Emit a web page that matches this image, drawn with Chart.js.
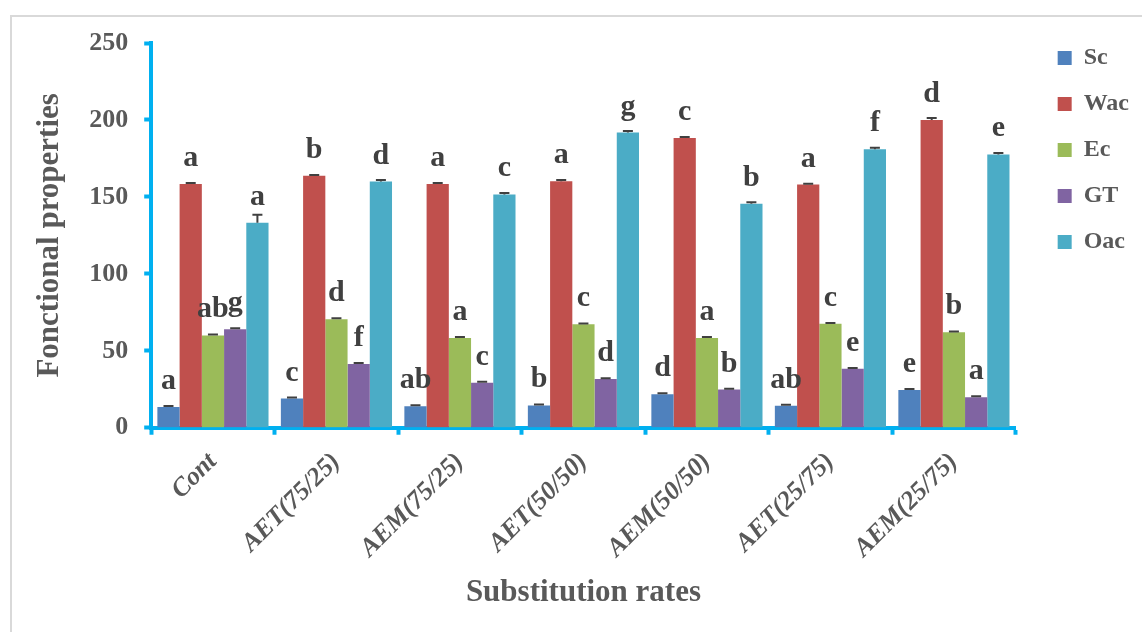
<!DOCTYPE html>
<html>
<head>
<meta charset="utf-8">
<script src="https://cdn.jsdelivr.net/npm/chart.js@4"></script>
<style>
  html, body { margin: 0; padding: 0; background: #fff; overflow: hidden; }
  #frame { position: absolute; left: 10px; top: 15px; width: 1200px; height: 700px; border: 2px solid #d9d9d9; }
  #wrap { position: absolute; left: 0; top: 0; width: 1142px; height: 632px; }
</style>
</head>
<body>
<div id="frame"></div>
<div id="wrap"><canvas id="chart" width="1142" height="632"></canvas></div>
<script>
const categories = ['Cont', 'AET(75/25)', 'AEM(75/25)', 'AET(50/50)', 'AEM(50/50)', 'AET(25/75)', 'AEM(25/75)'];

const scValues  = [13.5, 19.0, 14.0, 14.5, 21.8, 14.3, 24.5];
const wacValues = [158.3, 163.7, 158.4, 160.2, 188.3, 158.0, 200.0];
const ecValues  = [60.0, 70.5, 58.3, 67.2, 58.3, 67.5, 62.0];
const gtValues  = [64.0, 41.5, 29.3, 31.6, 24.8, 38.3, 19.8];
const oacValues = [133.2, 160.0, 151.6, 191.8, 145.6, 181.0, 177.6];

const scErr  = [0.6, 0.6, 0.6, 0.6, 0.6, 0.6, 0.6];
const wacErr = [0.8, 0.6, 0.6, 0.8, 0.6, 0.6, 1.2];
const ecErr  = [0.6, 0.6, 0.6, 0.6, 0.6, 0.6, 0.6];
const gtErr  = [0.6, 0.6, 0.6, 0.6, 0.6, 0.6, 0.6];
const oacErr = [5.2, 0.9, 0.9, 1.0, 0.9, 0.9, 0.9];

const scLetters  = ['a', 'c', 'ab', 'b', 'd', 'ab', 'e'];
const wacLetters = ['a', 'b', 'a', 'a', 'c', 'a', 'd'];
const ecLetters  = ['ab', 'd', 'a', 'c', 'a', 'c', 'b'];
const gtLetters  = ['g', 'f', 'c', 'd', 'b', 'e', 'a'];
const oacLetters = ['a', 'd', 'c', 'g', 'b', 'f', 'e'];

const yTicks = [0, 50, 100, 150, 200, 250];

const SERIF = '"Liberation Serif", "Times New Roman", serif';
const AXIS_BLUE = '#00B0F0';

// error bars (plus direction) and significance letters above each bar
const annotate = {
  id: 'annotate',
  afterDatasetsDraw(chart) {
    const ctx = chart.ctx;
    const y = chart.scales.y;
    ctx.save();
    chart.data.datasets.forEach((ds, di) => {
      const meta = chart.getDatasetMeta(di);
      meta.data.forEach((bar, i) => {
        const top = y.getPixelForValue(ds.data[i] + ds.errors[i]);
        ctx.strokeStyle = '#404040';
        ctx.lineWidth = 2;
        ctx.beginPath();
        ctx.moveTo(bar.x, bar.y);
        ctx.lineTo(bar.x, top);
        ctx.moveTo(bar.x - 5, top);
        ctx.lineTo(bar.x + 5, top);
        ctx.stroke();

        ctx.fillStyle = '#404040';
        ctx.font = 'bold 30px ' + SERIF;
        ctx.textAlign = 'center';
        ctx.textBaseline = 'alphabetic';
        ctx.fillText(ds.letters[i], bar.x, bar.y - 18);
      });
    });
    ctx.restore();
  }
};

new Chart(document.getElementById('chart'), {
  type: 'bar',
  data: {
    labels: categories,
    datasets: [
      { label: 'Sc',  data: scValues,  errors: scErr,  letters: scLetters,  backgroundColor: '#4F81BD' },
      { label: 'Wac', data: wacValues, errors: wacErr, letters: wacLetters, backgroundColor: '#C0504D' },
      { label: 'Ec',  data: ecValues,  errors: ecErr,  letters: ecLetters,  backgroundColor: '#9BBB59' },
      { label: 'GT',  data: gtValues,  errors: gtErr,  letters: gtLetters,  backgroundColor: '#8064A2' },
      { label: 'Oac', data: oacValues, errors: oacErr, letters: oacLetters, backgroundColor: '#4BACC6' },
    ],
  },
  options: {
    responsive: false,
    animation: false,
    layout: { padding: { left: 25, right: 3, top: 24, bottom: 16 } },
    datasets: { bar: { barPercentage: 1.0, categoryPercentage: 0.9 } },
    plugins: {
      tooltip: { enabled: false },
      legend: {
        position: 'right',
        align: 'start',
        labels: {
          boxWidth: 14,
          boxHeight: 14,
          padding: 22,
          color: '#595959',
          font: { family: SERIF, size: 24, weight: 'bold' },
        },
      },
    },
    scales: {
      x: {
        afterFit: (scale) => { scale.height -= 7; },
        grid: { display: true, drawOnChartArea: false, offset: true, tickLength: 7, tickColor: AXIS_BLUE, tickWidth: 4 },
        border: { color: AXIS_BLUE, width: 4 },
        ticks: {
          color: '#595959',
          font: { family: SERIF, size: 26, weight: 'bold', style: 'italic' },
          minRotation: 45,
          maxRotation: 45,
          padding: 12,
        },
        title: {
          display: true,
          text: 'Substitution rates',
          color: '#595959',
          font: { family: SERIF, size: 31, weight: 'bold' },
          padding: { top: 6, bottom: 4 },
        },
      },
      y: {
        min: 0,
        max: 250,
        afterBuildTicks: (scale) => { scale.ticks = yTicks.map(v => ({ value: v })); },
        grid: { display: true, drawOnChartArea: false, tickLength: 7, tickColor: AXIS_BLUE, tickWidth: 4 },
        border: { color: AXIS_BLUE, width: 4 },
        ticks: {
          color: '#595959',
          font: { family: SERIF, size: 26, weight: 'bold' },
          padding: 16,
        },
        title: {
          display: true,
          text: 'Fonctional properties',
          color: '#595959',
          font: { family: SERIF, size: 31, weight: 'bold' },
          padding: { top: 6, bottom: 5 },
        },
      },
      gap: {
        position: 'right',
        display: true,
        grid: { display: false },
        border: { display: false },
        ticks: { display: false },
        afterFit: (scale) => { scale.width = 20; },
      },
      topGap: {
        position: 'top',
        display: true,
        grid: { display: false },
        border: { display: false },
        ticks: { display: false },
        afterFit: (scale) => { scale.height = 19; },
      },
    },
  },
  plugins: [annotate],
});
</script>
</body>
</html>
